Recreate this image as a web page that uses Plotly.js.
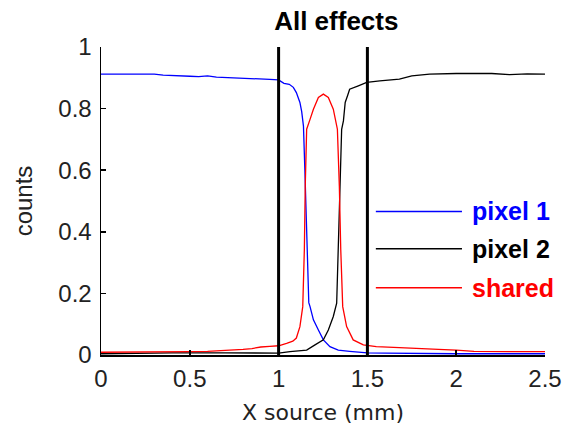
<!DOCTYPE html>
<html><head><meta charset="utf-8">
<script src="https://cdn.plot.ly/plotly-3.0.1.min.js"></script>
<style>html,body{margin:0;padding:0;background:#fff}#c{width:579px;height:429px}</style>
</head><body><div id="c"></div>
<script>
var titleText = "All effects";
var xLabel = "X source (mm)";
var yLabel = "counts";
var seriesNames = ["pixel 1", "pixel 2", "shared"];
var seriesColors = ["#0000ff", "#000000", "#ff0000"];
var boundaries = [1, 1.5];

var pixel1X = [0, 0.02, 0.05, 0.1, 0.2, 0.3, 0.35, 0.4, 0.45, 0.5, 0.55, 0.6, 0.65, 0.7, 0.75, 0.8, 0.85, 0.9, 0.95, 1.0, 1.03, 1.06, 1.083, 1.1, 1.12, 1.13, 1.14, 1.148, 1.155, 1.163, 1.17, 1.177, 1.196, 1.224, 1.252, 1.289, 1.336, 1.4, 1.5, 1.6, 1.7, 1.8, 1.9, 2.0, 2.2, 2.5];
var pixel1Y = [0.912, 0.912, 0.914, 0.912, 0.912, 0.912, 0.909, 0.907, 0.906, 0.905, 0.904, 0.906, 0.902, 0.901, 0.899, 0.900, 0.897, 0.896, 0.895, 0.893, 0.882, 0.879, 0.869, 0.852, 0.82, 0.79, 0.743, 0.6, 0.45, 0.3, 0.17, 0.157, 0.114, 0.081, 0.049, 0.027, 0.016, 0.012, 0.007, 0.006, 0.005, 0.004, 0.004, 0.004, 0.004, 0.004];

var pixel2X = [0, 0.2, 0.3, 0.4, 0.5, 0.6, 0.7, 0.8, 0.9, 1.0, 1.064, 1.158, 1.205, 1.252, 1.28, 1.308, 1.327, 1.336, 1.346, 1.355, 1.365, 1.375, 1.39, 1.4, 1.449, 1.496, 1.57, 1.68, 1.75, 1.85, 2.0, 2.2, 2.3, 2.4, 2.5];
var pixel2Y = [0.004, 0.004, 0.006, 0.007, 0.006, 0.007, 0.007, 0.006, 0.005, 0.006, 0.011, 0.016, 0.033, 0.049, 0.081, 0.125, 0.168, 0.347, 0.548, 0.733, 0.76, 0.82, 0.845, 0.863, 0.874, 0.885, 0.89, 0.896, 0.906, 0.912, 0.914, 0.914, 0.91, 0.913, 0.912];

var sharedX = [0, 0.1, 0.2, 0.3, 0.4, 0.5, 0.6, 0.7, 0.8, 0.85, 0.9, 0.95, 1.0, 1.045, 1.08, 1.10, 1.12, 1.136, 1.145, 1.15, 1.158, 1.177, 1.196, 1.224, 1.252, 1.28, 1.308, 1.331, 1.342, 1.35, 1.361, 1.383, 1.42, 1.477, 1.55, 1.68, 1.8, 1.9, 2.0, 2.1, 2.3, 2.5];
var sharedY = [0.009, 0.009, 0.009, 0.010, 0.010, 0.011, 0.012, 0.014, 0.018, 0.021, 0.026, 0.028, 0.030, 0.038, 0.045, 0.055, 0.092, 0.157, 0.342, 0.548, 0.733, 0.765, 0.798, 0.836, 0.847, 0.836, 0.798, 0.733, 0.548, 0.342, 0.157, 0.092, 0.049, 0.033, 0.027, 0.024, 0.022, 0.018, 0.016, 0.012, 0.011, 0.011];

var xs = [pixel1X, pixel2X, sharedX];
var ys = [pixel1Y, pixel2Y, sharedY];
var FONT = "Liberation Sans, Arial, sans-serif";
var WIDEFONT = "DejaVu Sans, sans-serif";

var traces = [];
for (var i = 0; i < 3; i++) {
  traces.push({x: xs[i], y: ys[i], type: "scatter", mode: "lines", name: seriesNames[i],
    line: {color: seriesColors[i], width: 1.3}, showlegend: false, hoverinfo: "skip"});
}

var shapes = [];
boundaries.forEach(function (b) {
  shapes.push({type: "line", xref: "x", yref: "y", x0: b, x1: b, y0: 0, y1: 1,
    line: {color: "#000", width: 3}});
});

// manual legend (paper coords)
var legY = [0.466, 0.345, 0.218];
var annotations = [];
for (var k = 0; k < 3; k++) {
  shapes.push({type: "line", xref: "paper", yref: "paper", x0: 0.619, x1: 0.813, y0: legY[k], y1: legY[k],
    line: {color: seriesColors[k], width: 1.5}});
  annotations.push({xref: "paper", yref: "paper", x: 0.831, y: legY[k], xanchor: "left", yanchor: "middle",
    showarrow: false, text: "<b>" + seriesNames[k] + "</b>",
    font: {family: FONT, size: 25, color: seriesColors[k]}});
}

var layout = {
  width: 579, height: 429,
  margin: {l: 101, r: 34, t: 47, b: 74},
  paper_bgcolor: "#fff", plot_bgcolor: "#fff",
  showlegend: false,
  title: {text: "<b>" + titleText + "</b>", x: 0.53, xref: "paper", xanchor: "center",
    y: 0.952, yref: "container", yanchor: "middle", font: {family: FONT, size: 26, color: "#000"}},
  xaxis: {range: [0, 2.5], tickvals: [0, 0.5, 1, 1.5, 2, 2.5], ticks: "inside", ticklen: 5, tickwidth: 1.5, tickcolor: "#000",
    showline: true, linecolor: "#000", linewidth: 1.5, mirror: false, showgrid: false, zeroline: false,
    tickfont: {family: FONT, size: 24, color: "#222"}, ticklabelstandoff: 2,
    title: {text: xLabel, font: {family: WIDEFONT, size: 22, color: "#222"}, standoff: 13}},
  yaxis: {range: [0, 1], tickvals: [0, 0.2, 0.4, 0.6, 0.8, 1], ticks: "inside", ticklen: 5, tickwidth: 1.5, tickcolor: "#000",
    showline: true, linecolor: "#000", linewidth: 1.5, mirror: false, showgrid: false, zeroline: false,
    tickfont: {family: FONT, size: 24, color: "#222"}, ticklabelstandoff: 3,
    title: {text: yLabel, font: {family: FONT, size: 24, color: "#222"}, standoff: 19}},
  shapes: shapes,
  annotations: annotations
};

Plotly.newPlot("c", traces, layout, {displayModeBar: false, staticPlot: true});
</script></body></html>
